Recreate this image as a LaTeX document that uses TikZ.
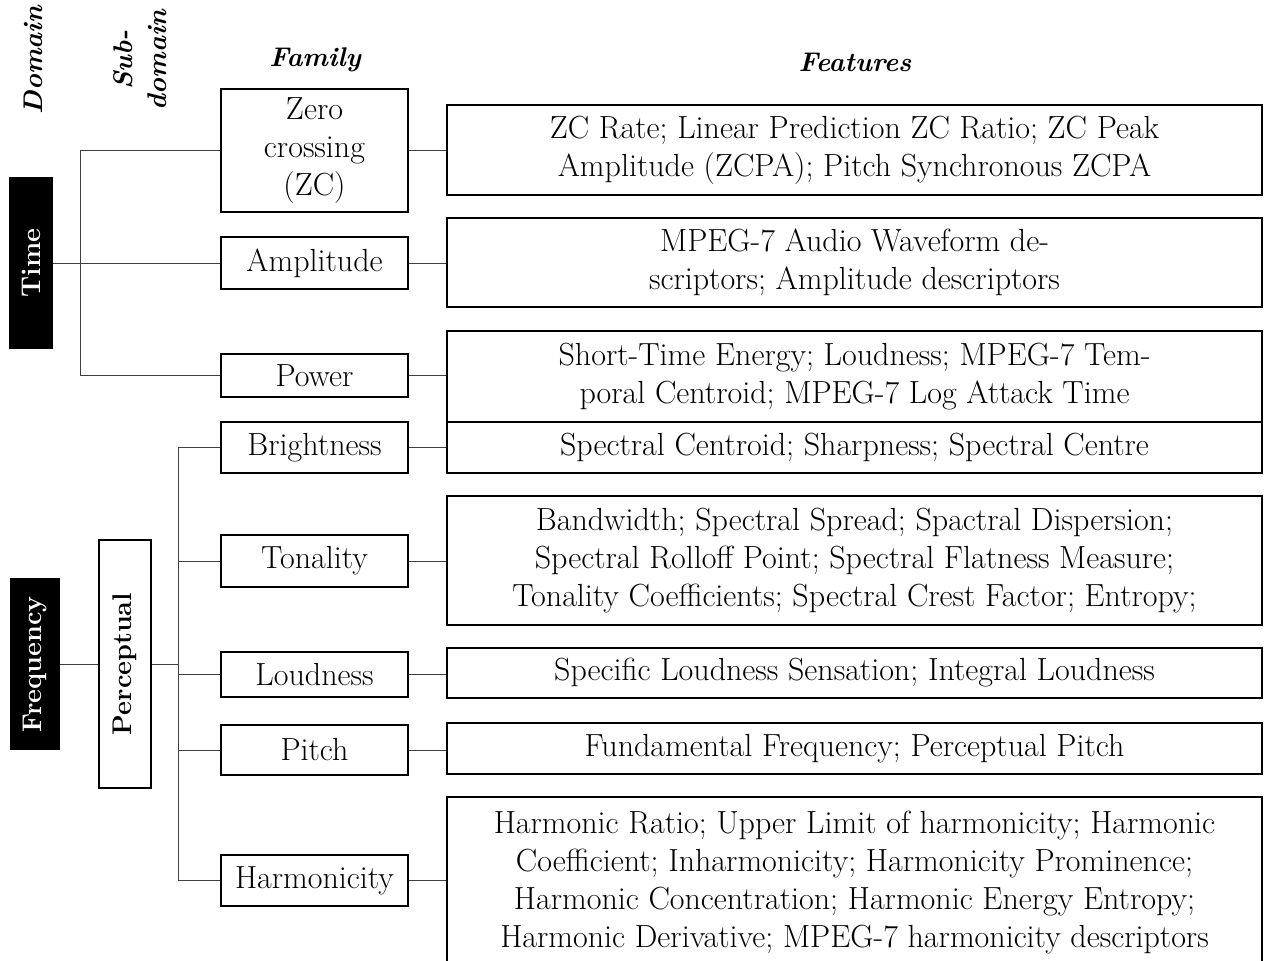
\documentclass[tikz,border=0pt]{standalone}
\usepackage{fontspec}
\begin{document}
\begin{tikzpicture}[x=0.5pt,y=-0.5pt,
  fam/.style={draw,line width=0.6pt,inner sep=0pt,minimum width=187*0.5pt,
    align=center,font=\fontsize{16}{19}\selectfont},
  feat/.style={draw,line width=0.6pt,inner sep=0pt,minimum width=815*0.5pt,
    align=center,font=\fontsize{16}{19}\selectfont},
  hgt/.style={minimum height=#1*0.5pt},
  dombox/.style={fill=black,text=white,inner sep=0pt,rotate=90,
    font=\fontsize{13.5}{16}\bfseries\selectfont},
  subbox/.style={draw,line width=0.6pt,inner sep=0pt,rotate=90,
    font=\fontsize{13.5}{16}\bfseries\selectfont},
  head/.style={inner sep=0pt,align=center,font=\fontsize{13.5}{17}\bfseries\itshape\selectfont},
  link/.style={draw=black!75,line width=0.5pt}]
\clip (0,0) rectangle (1268,960);
\useasboundingbox (0,0) rectangle (1268,960);

% column headings
\node[head,rotate=90] (hdom) at (33,60) {Domain};
\node[head,rotate=90] (hsub) at (140,60) {Sub-\\domain};
\node[head] (hfam) at (315,60) {Family};
\node[head] (hfeat) at (855,62) {Features};

% domains and sub-domain
\node[dombox,minimum width=172*0.5pt,minimum height=44*0.5pt] (time) at (31,263) {Time};
\node[dombox,minimum width=172*0.5pt,minimum height=50*0.5pt] (freq) at (35,664) {Frequency};
\node[subbox,minimum width=248*0.5pt,minimum height=52*0.5pt] (perc) at (125,664) {Perceptual};

% families
\node[fam,hgt=123] (zc)   at (314.5,150.5) {Zero\\crossing\\(ZC)};
\node[fam,hgt=52]  (amp)  at (314.5,263)   {Amplitude};
\node[fam,hgt=43]  (pow)  at (314.5,375.5) {Power};
\node[fam,hgt=51]  (bri)  at (314.5,447.5) {Brightness};
\node[fam,hgt=52]  (ton)  at (314.5,561)   {Tonality};
\node[fam,hgt=45]  (lou)  at (314.5,674.5) {Loudness};
\node[fam,hgt=50]  (pit)  at (314.5,750)   {Pitch};
\node[fam,hgt=51]  (har)  at (314.5,880.5) {Harmonicity};

% features
\node[feat,hgt=90]  (fzc)  at (854.5,150)   {ZC Rate; Linear Prediction ZC Ratio; ZC Peak\\Amplitude (ZCPA); Pitch Synchronous ZCPA};
\node[feat,hgt=89]  (famp) at (854.5,262.5) {MPEG-7 Audio Waveform de-\\scriptors; Amplitude descriptors};
\node[feat,hgt=91]  (fpow) at (854.5,376.5) {Short-Time Energy; Loudness; MPEG-7 Tem-\\poral Centroid; MPEG-7 Log Attack Time};
\node[feat,hgt=51]  (fbri) at (854.5,447.5) {Spectral Centroid; Sharpness; Spectral Centre};
\node[feat,hgt=129] (fton) at (854.5,560.5) {Bandwidth; Spectral Spread; Spactral Dispersion;\\Spectral Rolloff Point; Spectral Flatness Measure;\\Tonality Coefficients; Spectral Crest Factor; Entropy;};
\node[feat,hgt=50]  (flou) at (854.5,673)   {Specific Loudness Sensation; Integral Loudness};
\node[feat,hgt=51]  (fpit) at (854.5,748.5) {Fundamental Frequency; Perceptual Pitch};
\node[feat,hgt=170] (fhar) at (854.5,882)   {Harmonic Ratio; Upper Limit of harmonicity; Harmonic\\Coefficient; Inharmonicity; Harmonicity Prominence;\\Harmonic Concentration; Harmonic Energy Entropy;\\Harmonic Derivative; MPEG-7 harmonicity descriptors};

% time tree
\coordinate (tbus) at (80,263);
\draw[link] (time.south) -- (tbus);
\draw[link] (zc.west) -- (zc.west -| tbus) -- (pow.west -| tbus) -- (pow.west);
\draw[link] (tbus) -- (amp.west);

% frequency tree
\coordinate (fbus) at (178,664);
\draw[link] (freq.south) -- (perc.north);
\draw[link] (perc.south) -- (fbus);
\draw[link] (bri.west) -- (bri.west -| fbus) -- (har.west -| fbus) -- (har.west);
\draw[link] (ton.west -| fbus) -- (ton.west);
\draw[link] (lou.west -| fbus) -- (lou.west);
\draw[link] (pit.west -| fbus) -- (pit.west);

% family to features
\foreach \a/\b in {zc/fzc,amp/famp,pow/fpow,bri/fbri,ton/fton,lou/flou,pit/fpit,har/fhar}
  \draw[link] (\a.east) -- (\a.east -| \b.west);
\end{tikzpicture}
\end{document}
